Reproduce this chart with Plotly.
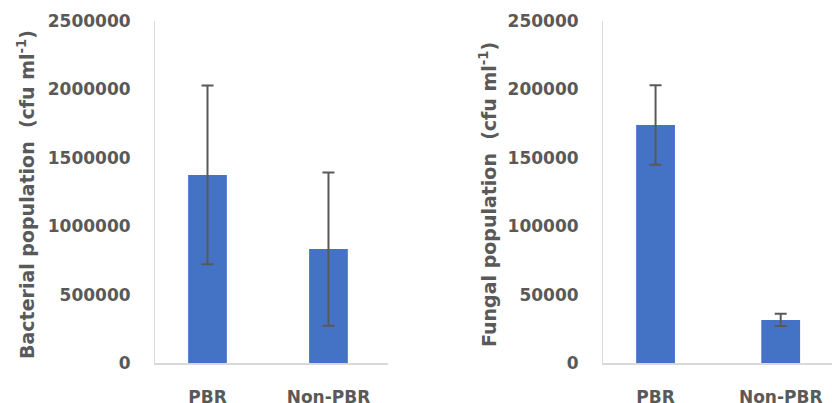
import plotly.graph_objects as go

# Sample groups
categories = ["PBR", "Non-PBR"]

# Bacterial counts (cfu ml-1): mean and error
bacterial_mean = [1375000, 833000]
bacterial_err = [653000, 560000]

# Fungal counts (cfu ml-1): mean and error
fungal_mean = [174000, 31500]
fungal_err = [29000, 4500]

# Axis ticks
bacterial_ticks = [0, 500000, 1000000, 1500000, 2000000, 2500000]
fungal_ticks = [0, 50000, 100000, 150000, 200000, 250000]

BAR = "#4472C4"
TXT = "#595959"
AX = "#D9D9D9"
FONT = "DejaVu Sans"

fig = go.Figure()

fig.add_trace(go.Bar(
    x=categories, y=bacterial_mean, width=0.32,
    marker=dict(color=BAR, line=dict(width=0)),
    error_y=dict(type="data", array=bacterial_err, color=TXT, thickness=2, width=6),
    xaxis="x", yaxis="y", showlegend=False,
))
fig.add_trace(go.Bar(
    x=categories, y=fungal_mean, width=0.31,
    marker=dict(color=BAR, line=dict(width=0)),
    error_y=dict(type="data", array=fungal_err, color=TXT, thickness=2, width=6),
    xaxis="x2", yaxis="y2", showlegend=False,
))

tickfont = dict(family=FONT, size=17, color=TXT, weight="bold")

common_x = dict(
    showgrid=False, zeroline=False, showline=True, linecolor=AX, linewidth=1.5,
    ticks="outside", ticklen=0, tickcolor="rgba(0,0,0,0)", automargin=False,
    ticklabelstandoff=18, tickfont=tickfont, fixedrange=True,
)
common_y = dict(
    showgrid=False, zeroline=False, showline=True, linecolor=AX, linewidth=1,
    ticks="outside", ticklen=0, tickcolor="rgba(0,0,0,0)", automargin=False,
    ticklabelstandoff=20, tickfont=tickfont, fixedrange=True,
)

fig.update_layout(
    width=832, height=403,
    margin=dict(l=0, r=0, t=0, b=0, autoexpand=False),
    paper_bgcolor="white", plot_bgcolor="white",
    xaxis=dict(domain=[155 / 832, 388 / 832], range=[-0.434, 1.492],
               anchor="y", **common_x),
    yaxis=dict(domain=[1 - 363 / 403, 1 - 21 / 403], range=[0, 2500000],
               tickvals=bacterial_ticks, tickformat="d", anchor="x", **common_y),
    xaxis2=dict(domain=[603 / 832, 1.0], range=[-0.42, 1.41],
                anchor="y2", **common_x),
    yaxis2=dict(domain=[1 - 363 / 403, 1 - 21 / 403], range=[0, 250000],
                tickvals=fungal_ticks, tickformat="d", anchor="x2", **common_y),
    annotations=[
        dict(text="Bacterial population  (cfu ml<sup>-1</sup>)", textangle=-90,
             x=26, y=195, xref="paper", yref="paper", showarrow=False,
             xanchor="center", yanchor="middle",
             font=dict(family=FONT, size=19, color=TXT, weight="bold")),
        dict(text="Fungal population  (cfu ml<sup>-1</sup>)", textangle=-90,
             x=488, y=195, xref="paper", yref="paper", showarrow=False,
             xanchor="center", yanchor="middle",
             font=dict(family=FONT, size=19, color=TXT, weight="bold")),
    ],
)

# annotation positions given in pixels; convert to paper fractions
for a in fig.layout.annotations:
    a.x = a.x / 832
    a.y = 1 - a.y / 403

fig.write_html("out.html")
